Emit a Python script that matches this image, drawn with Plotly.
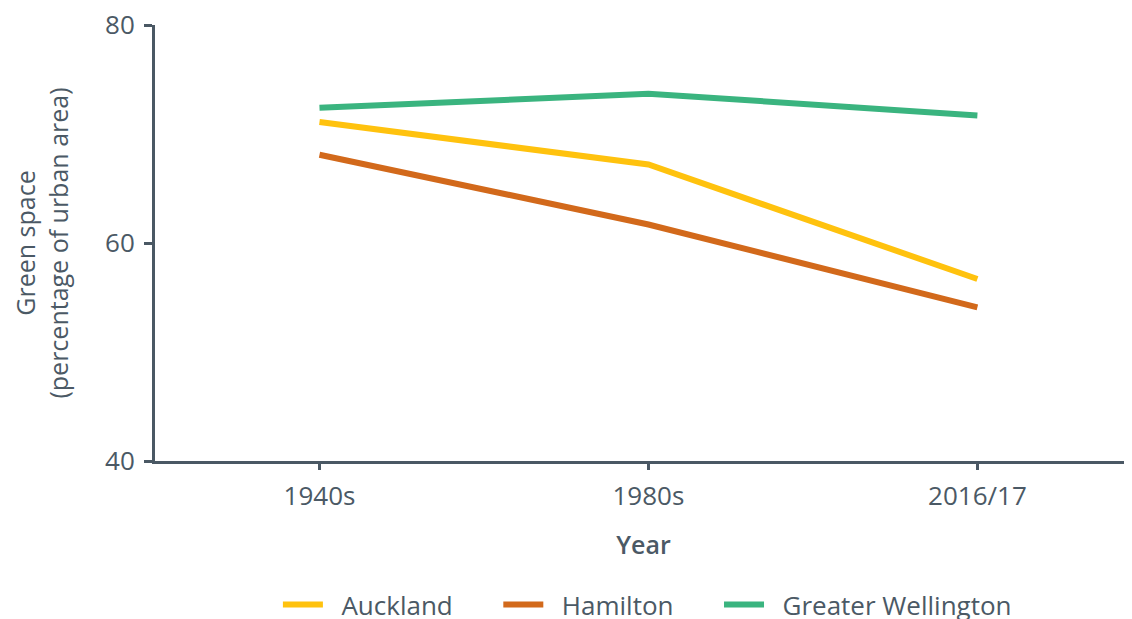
import plotly.graph_objects as go

years = ["1940s", "1980s", "2016/17"]
auckland = [71.1, 67.2, 56.7]
hamilton = [68.1, 61.7, 54.1]
wellington = [72.4, 73.7, 71.7]

series = [
    ("Auckland", auckland, "#FFC20E"),
    ("Hamilton", hamilton, "#D2691B"),
    ("Greater Wellington", wellington, "#3AB47F"),
]

txt = "#4B5965"
axc = "#4A5864"
nb = "\u00a0"

fig = go.Figure()
for i, (name, vals, col) in enumerate(series):
    label = nb * 2 + name + (nb * 6 if i < len(series) - 1 else "")
    fig.add_trace(go.Scatter(x=years, y=vals, name=label, mode="lines",
                             line=dict(color=col, width=6)))

fig.update_layout(
    width=1124, height=611,
    margin=dict(l=147, r=0, t=17, b=158, autoexpand=False),
    paper_bgcolor="white", plot_bgcolor="white",
    font=dict(family="Open Sans", color=txt, size=26),
    showlegend=True,
    legend=dict(orientation="h", x=0.504, xanchor="center", xref="paper",
                y=-0.383, yanchor="bottom", yref="paper",
                font=dict(size=26, color=txt), itemwidth=40,
                tracegroupgap=0),
    xaxis=dict(type="category", range=[-0.5, 2.47], showgrid=False,
               automargin=False,
               showline=True, linecolor=axc, linewidth=3,
               ticks="outside", ticklen=6, tickwidth=3, tickcolor=axc,
               tickfont=dict(size=26, color=txt), ticklabelstandoff=4,
               title=dict(text="Year", font=dict(size=25, color=txt, weight=600), standoff=25),
               zeroline=False),
    yaxis=dict(range=[40, 80], tickvals=[40, 60, 80], showgrid=False,
               automargin=False, ticklabeloverflow="allow",
               showline=True, linecolor=axc, linewidth=3,
               ticks="outside", ticklen=8, tickwidth=3, tickcolor=axc,
               tickfont=dict(size=26, color=txt), ticklabelstandoff=4,
               title=dict(text="Green space<br>(percentage of urban area)",
                          font=dict(size=25, color=txt), standoff=50),
               zeroline=False),
)

fig.write_html("out.html")
